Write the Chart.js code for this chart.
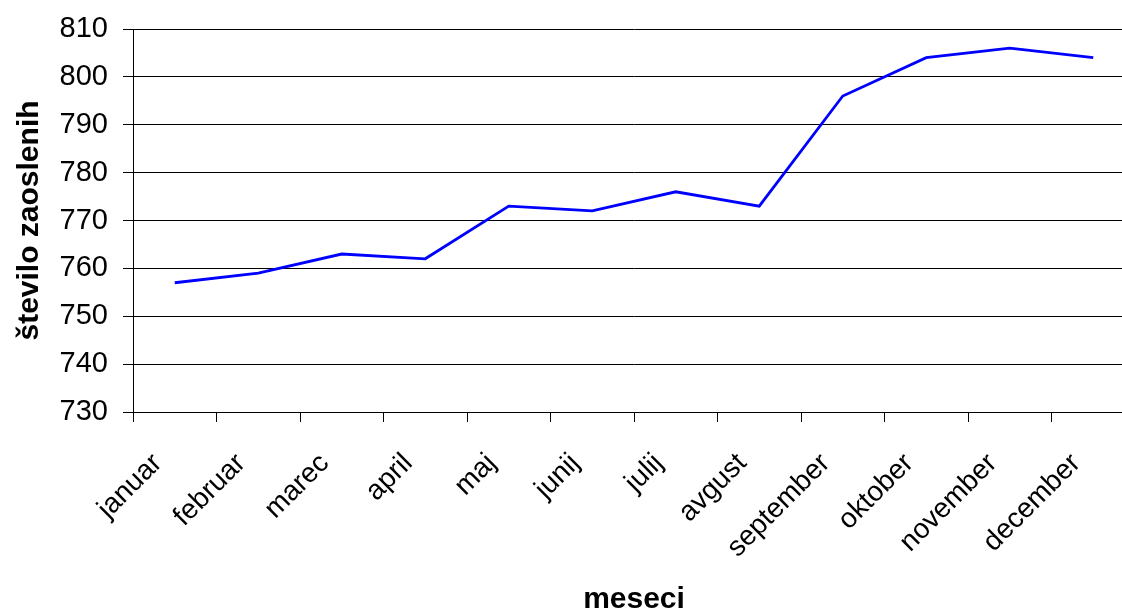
<!DOCTYPE html>
<html>
<head>
<meta charset="utf-8">
<script src="https://cdn.jsdelivr.net/npm/chart.js@4/dist/chart.umd.min.js"></script>
<style>
  html, body { margin: 0; padding: 0; background: #fff; overflow: hidden; }
  #wrap { position: absolute; left: 0; top: 0; width: 1135px; height: 614px; }
</style>
</head>
<body>
<div id="wrap"><canvas id="c" width="1135" height="614"></canvas></div>
<script>
// Monthly number of employed persons
const months = ['januar', 'februar', 'marec', 'april', 'maj', 'junij', 'julij', 'avgust', 'september', 'oktober', 'november', 'december'];
const employed = [757, 759, 763, 762, 773, 772, 776, 773, 796, 804, 806, 804];
const yMin = 730;
const yMax = 810;
const yStep = 10;
const xTitle = 'meseci';
const yTitle = 'število zaoslenih';

const FONT = "'Liberation Sans', Arial, Helvetica, sans-serif";

new Chart(document.getElementById('c'), {
  type: 'line',
  data: {
    labels: months,
    datasets: [{
      data: employed,
      borderColor: '#0000ff',
      borderWidth: 2.8,
      pointRadius: 0,
      tension: 0,
      fill: false
    }]
  },
  options: {
    responsive: false,
    devicePixelRatio: 1,
    animation: false,
    layout: { padding: { top: 29, left: 0, right: 0, bottom: 0 } },
    plugins: { legend: { display: false }, tooltip: { enabled: false } },
    scales: {
      x: {
        type: 'category',
        offset: true,
        grid: {
          offset: true,
          drawOnChartArea: false,
          drawTicks: true,
          tickLength: 10,
          color: '#000',
          lineWidth: 1
        },
        border: { display: true, color: '#000', width: 1 },
        ticks: {
          autoSkip: false,
          minRotation: 45,
          maxRotation: 45,
          padding: 25,
          labelOffset: -17,
          color: '#000',
          font: { family: FONT, size: 28 }
        },
        title: {
          display: true,
          text: xTitle,
          color: '#000',
          font: { family: FONT, size: 30, weight: 'bold' },
          padding: { top: 0, bottom: -4 }
        },
        afterFit(scale) {
          scale.height = 202;
          // plot sides are set by the y axis width and the canvas edge
          scale.paddingLeft = 0;
          scale.paddingRight = 0;
        }
      },
      y: {
        min: yMin,
        max: yMax,
        grid: {
          color: '#000',
          lineWidth: 1,
          drawTicks: true,
          tickLength: 10
        },
        border: { display: true, color: '#000', width: 1 },
        ticks: {
          stepSize: yStep,
          padding: 15,
          color: '#000',
          font: { family: FONT, size: 29 }
        },
        title: {
          display: true,
          text: yTitle,
          color: '#000',
          font: { family: FONT, size: 30, weight: 'bold' },
          padding: { top: 12, bottom: 0 }
        },
        afterFit(scale) {
          scale.width = 133;
          // plot top is set by layout padding alone
          scale.paddingTop = 0;
          scale.paddingBottom = 0;
        }
      }
    }
  }
});
</script>
</body>
</html>
